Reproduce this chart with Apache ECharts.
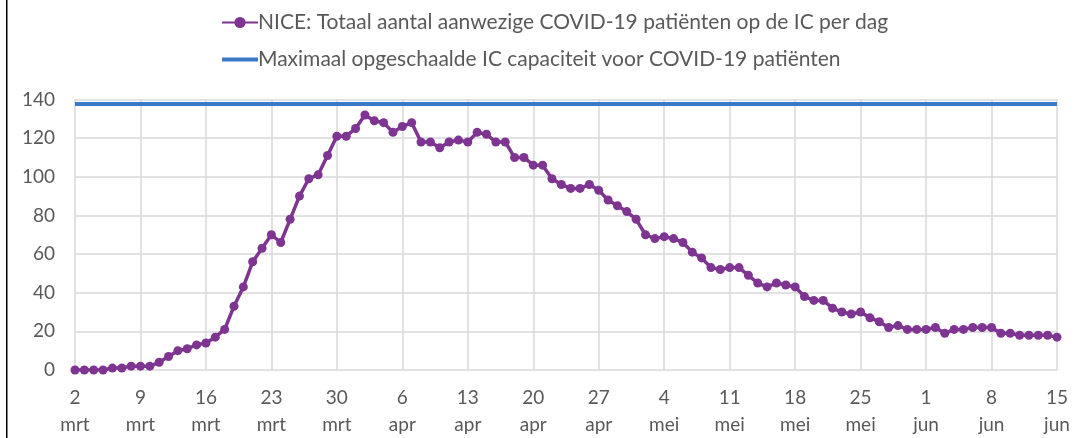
<!DOCTYPE html>
<html>
<head>
<meta charset="utf-8">
<script src="https://cdn.jsdelivr.net/npm/echarts@6/dist/echarts.min.js"></script>
<style>
html,body{margin:0;padding:0;background:#fff;}
#chart{width:1082px;height:438px;}
</style>
</head>
<body>
<div id="chart"></div>
<script>
// Months and their day ranges covered (2 mrt .. 15 jun)
const monthNames = ["mrt", "apr", "mei", "jun"];
const monthFirstDay = [2, 1, 1, 1];
const monthLastDay = [31, 30, 31, 15];

const seriesNames = [
  "NICE: Totaal aantal aanwezige COVID-19 patiënten op de IC per dag",
  "Maximaal opgeschaalde IC capaciteit voor COVID-19 patiënten"
];

// Daily IC occupancy, 2 mrt .. 15 jun
const icPatients = [
  0,0,0,0,1,1,2,2,2,4,
  7,10,11,13,14,17,21,33,43,56,
  63,70,66,78,90,99,101,111,121,121,
  125,132,129,128,123,126,128,118,118,115,
  118,119,118,123,122,118,118,110,110,106,
  106,99,96,94,94,96,93,88,85,82,
  78,70,68,69,68,66,61,58,53,52,
  53,53,49,45,43,45,44,43,38,36,
  36,32,30,29,30,27,25,22,23,21,
  21,21,22,19,21,21,22,22,22,19,
  19,18,18,18,18,17
];

const capacity = 138;
const yTicks = [0, 20, 40, 60, 80, 100, 120, 140];

const categories = [];
for (let m = 0; m < monthNames.length; m++) {
  for (let d = monthFirstDay[m]; d <= monthLastDay[m]; d++) {
    categories.push(d + " " + monthNames[m]);
  }
}

const chart = echarts.init(document.getElementById('chart'), null, {renderer: 'canvas'});
const font = 'Lato, "Noto Sans", sans-serif';
const textColor = '#595959';
const gridColor = '#d9d9d9';
const purple = '#7d3591';
const blue = '#3a7ac4';

chart.setOption({
  animation: false,
  backgroundColor: '#ffffff',
  textStyle: {fontFamily: font},
  graphic: [{
    type: 'rect',
    shape: {x: 6, y: 0, width: 1.5, height: 438},
    style: {fill: '#000000'},
    silent: true
  }],
  legend: {
    orient: 'vertical',
    left: 216,
    top: 7,
    itemWidth: 36,
    itemHeight: 14,
    itemGap: 16,
    symbolKeepAspect: true,
    textStyle: {fontFamily: font, fontSize: 21, color: textColor, padding: [0, 0, 0, -5]},
    data: [
      {name: seriesNames[0]},
      {name: seriesNames[1], icon: 'path://M0,0H36V4H0Z', itemStyle: {color: blue}}
    ]
  },
  grid: {left: 75, right: 25, top: 99.5, bottom: 65.5, containLabel: false},
  xAxis: {
    type: 'category',
    data: categories,
    boundaryGap: false,
    axisLine: {show: false},
    axisTick: {show: false},
    axisLabel: {
      interval: 6,
      color: textColor,
      fontFamily: font,
      fontSize: 19,
      lineHeight: 27,
      margin: 14,
      formatter: function (v) { return v.replace(' ', '\n'); }
    },
    splitLine: {show: true, interval: 6, lineStyle: {color: gridColor, width: 1.5}}
  },
  yAxis: {
    type: 'value',
    min: yTicks[0],
    max: yTicks[yTicks.length - 1],
    interval: yTicks[1] - yTicks[0],
    axisLine: {show: false},
    axisTick: {show: false},
    axisLabel: {color: textColor, fontFamily: font, fontSize: 19, margin: 20},
    splitLine: {lineStyle: {color: gridColor, width: 1.5}}
  },
  series: [
    {
      name: seriesNames[0],
      type: 'line',
      data: icPatients,
      symbol: 'circle',
      symbolSize: 9,
      showAllSymbol: true,
      z: 3,
      lineStyle: {color: purple, width: 3.5},
      itemStyle: {color: purple}
    },
    {
      name: seriesNames[1],
      type: 'line',
      data: [],
      symbol: 'none',
      z: 2,
      lineStyle: {color: blue, width: 4},
      itemStyle: {color: blue},
      markLine: {
        silent: true,
        symbol: 'none',
        label: {show: false},
        lineStyle: {color: blue, width: 4, type: 'solid'},
        data: [{yAxis: capacity}]
      }
    }
  ]
});
</script>
</body>
</html>
